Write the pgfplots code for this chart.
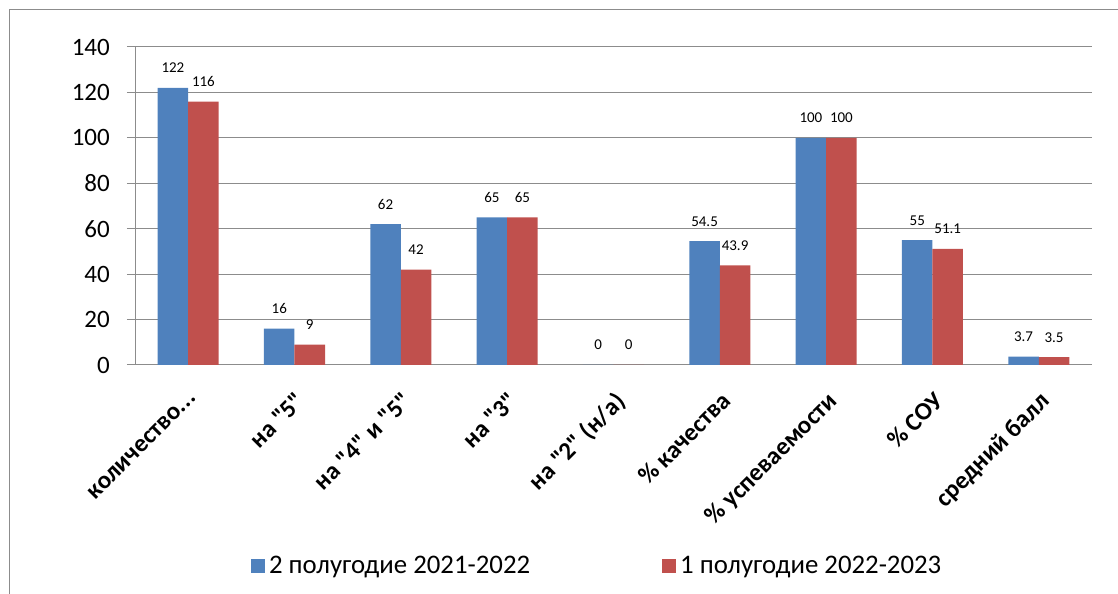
\documentclass[border=0pt]{standalone}
\usepackage{pgfplots}
\pgfplotsset{compat=1.18}
\usepackage{fontspec}
\setmainfont{Carlito}[Ligatures=TeXOff]
\definecolor{sblue}{HTML}{4F81BD}
\definecolor{sred}{HTML}{C0504D}
\definecolor{gridc}{HTML}{8C8C8C}
\pgfplotstableread{
x a b
0 122 116
1 16 9
2 62 42
3 65 65
4 0 0
5 54.5 43.9
6 100 100
7 55 51.1
8 3.7 3.5
}\datatable
\begin{document}
\begin{tikzpicture}
\begin{axis}[
  at={(135bp,229bp)}, anchor=south west,
  width=957bp, height=318bp, scale only axis,
  /pgf/number format/assume math mode=true,
  ymin=0, ymax=140, ytick={0,20,...,140},
  xmin=-0.5, xmax=8.5,
  xtick={0,...,8},
  xticklabels={{количество.{}.{}.},{на "5"},{на "4" и "5"},{на "3"},{на "2" (н/а)},{\% качества},{\% успеваемости},{\% СОУ},{средний балл}},
  axis x line*=bottom, axis y line*=left,
  axis line style={gridc, line width=1bp},
  ymajorgrids, grid style={gridc, line width=1bp},
  tick align=outside, major tick length=8bp,
  tick style={gridc, line width=1bp},
  major x tick style={draw=none},
  extra x ticks={-0.5,0.5,1.5,2.5,3.5,4.5,5.5,6.5,7.5,8.5},
  extra x tick labels={},
  extra x tick style={grid=none, major tick length=8bp, tick style={gridc, line width=1bp}},
  yticklabel style={font=\fontsize{25bp}{30bp}\selectfont, inner sep=0pt, xshift=-17bp},
  xticklabel style={font=\bfseries\fontsize{25bp}{30bp}\selectfont, xshift=0bp, yshift=-17bp, rotate=45, anchor=north east, inner sep=0pt},
  ybar=0pt, bar width=30.5bp,
  nodes near coords,
  every node near coord/.append style={font=\fontsize{15bp}{15bp}\selectfont, anchor=base, inner sep=0pt, yshift=15bp},
  legend columns=2,
  legend style={at={(0.484,-0.632)}, anchor=center, draw=none, fill=none,
    font=\fontsize{26.8bp}{30bp}\selectfont,
    nodes={inner xsep=4bp},
    /tikz/every even column/.append style={column sep=128bp}},
  legend image code/.code={\fill[#1] (0bp,-7bp) rectangle (14bp,7bp);},
]
\addplot[fill=sblue, draw=none] table[x=x, y=a] {\datatable};
\addplot[fill=sred, draw=none] table[x=x, y=b] {\datatable};
\legend{2 полугодие 2021-2022, 1 полугодие 2022-2023}
\end{axis}
\draw[gridc, line width=1bp] (9bp,0bp) -- (9bp,584bp) -- (1118bp,584bp);
\pgfresetboundingbox
\path[use as bounding box] (0bp,0bp) rectangle (1118bp,594bp);
\end{tikzpicture}
\end{document}
